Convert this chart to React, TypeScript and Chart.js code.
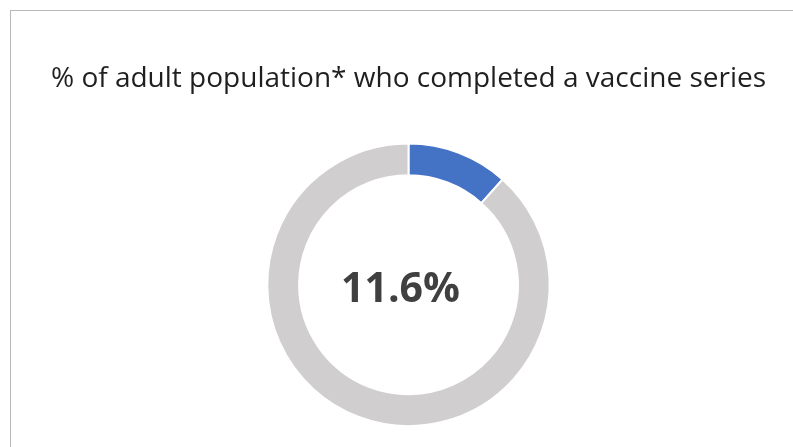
import React, { useEffect, useRef } from "react";
import { Chart, registerables } from "chart.js";

Chart.register(...registerables);

const TITLE = "% of adult population* who completed a vaccine series";
const CATEGORIES = ["Completed a vaccine series", "Not completed"];
const VALUES = [11.6, 88.4];
const COLORS = ["#4472C4", "#D0CECE"];

const centerTextPlugin = {
  id: "centerText",
  afterDatasetsDraw(chart: any) {
    const meta = chart.getDatasetMeta(0);
    const arc = meta.data[0];
    if (!arc) return;
    const { x, y } = arc.getProps(["x", "y"], true);
    const ctx = chart.ctx;
    ctx.save();
    ctx.font = "bold 41px 'Open Sans', sans-serif";
    ctx.fillStyle = "#404040";
    ctx.textAlign = "center";
    ctx.textBaseline = "middle";
    ctx.fillText(VALUES[0].toFixed(1) + "%", x - 8, y + 6);
    ctx.restore();
  },
};

export default function App() {
  const ref = useRef<HTMLCanvasElement>(null);
  useEffect(() => {
    if (!ref.current) return;
    const chart = new Chart(ref.current, {
      type: "doughnut",
      data: {
        labels: CATEGORIES,
        datasets: [
          {
            data: VALUES,
            backgroundColor: COLORS,
            borderColor: "#ffffff",
            borderWidth: 2,
          },
        ],
      },
      options: {
        responsive: false,
        animation: false,
        cutout: "77.5%",
        layout: { padding: { left: 24, right: 0, top: 52, bottom: 20 } },
        plugins: {
          legend: { display: false },
          tooltip: { enabled: false },
          title: {
            display: true,
            text: TITLE,
            color: "#1f1f1f",
            font: { family: "'Open Sans', sans-serif", size: 28, weight: "normal" },
            padding: { top: 10, bottom: 47 },
          },
        },
      },
      plugins: [centerTextPlugin],
    });
    return () => chart.destroy();
  }, []);
  return (
    <div style={{ position: "absolute", left: 0, top: 0, width: 793, height: 447, overflow: "hidden", background: "#ffffff" }}>
      <div
        style={{
          position: "absolute",
          left: 10,
          top: 10,
          width: 900,
          height: 600,
          border: "1px solid #b8b8b8",
        }}
      />
      <canvas ref={ref} width={793} height={447} style={{ position: "absolute", left: 0, top: 0, width: 793, height: 447 }} />
    </div>
  );
}
